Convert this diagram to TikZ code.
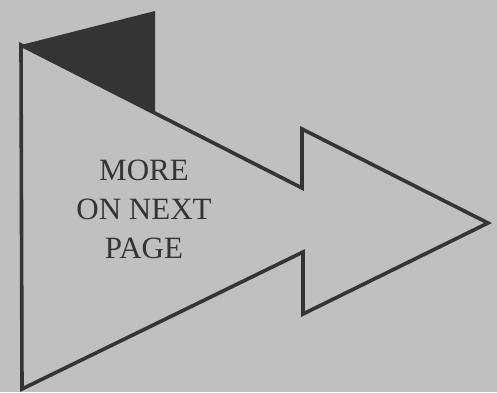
\documentclass[tikz,border=0pt]{standalone}
\usepackage{fontspec}
\setmainfont{Liberation Serif}
\definecolor{bg}{HTML}{C0C0C0}
\definecolor{ink}{HTML}{343434}
\tikzset{outline/.style={draw=ink,line width=3.6pt,line join=miter},
  label/.style={text=ink,font=\fontsize{31}{39}\selectfont,align=center,inner sep=0pt}}
\begin{document}
\begin{tikzpicture}[x=1pt,y=-1pt]
\fill[bg] (0,0) rectangle (497,392);
\useasboundingbox (0,0) rectangle (497,392);
\coordinate (A) at (21,45);
\coordinate (F) at (155,11);
\coordinate (G) at (155,113);
\coordinate (N1) at (302,188);
\coordinate (N2) at (302,129);
\coordinate (T) at (488,223);
\coordinate (N3) at (303,314);
\coordinate (N4) at (303,252);
\coordinate (B) at (22,389);
\fill[ink] (A) -- (F) -- (G) -- cycle;
\draw[outline] (A) -- (N1) -- (N2) -- (T) -- (N3) -- (N4) -- (B) -- cycle;
\node[label] (txt) at (144,209) {MORE\\ON NEXT\\PAGE};
\end{tikzpicture}
\end{document}
